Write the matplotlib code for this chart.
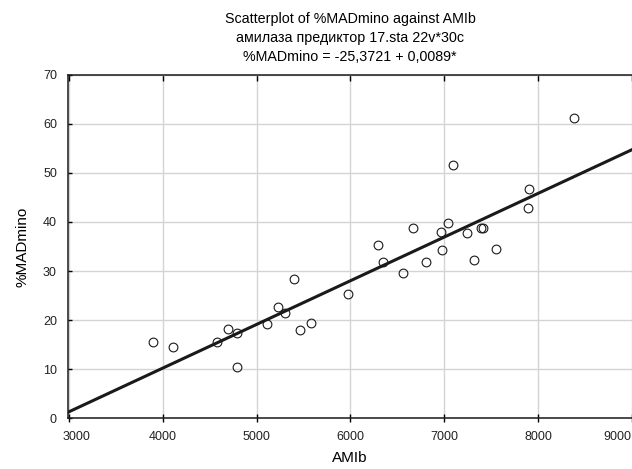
import numpy as np
import matplotlib
matplotlib.use("Agg")
import matplotlib.pyplot as plt
import matplotlib.transforms as mtransforms

plt.rcParams['font.family'] = ['Liberation Sans', 'DejaVu Sans']

# AMIb values (x) and %MADmino values (y)
amib = [3894, 4106, 4577, 4694, 4790, 4787, 5109, 5226, 5300, 5396,
        5460, 5580, 5974, 6296, 6349, 6562, 6668, 6806, 6969, 6980,
        7037, 7090, 7242, 7320, 7387, 7415, 7547, 7887, 7898, 8387]
madmino = [15.6, 14.5, 15.6, 18.1, 17.4, 10.5, 19.3, 22.7, 21.5, 28.4,
           18.0, 19.4, 25.3, 35.4, 31.9, 29.6, 38.8, 31.8, 38.0, 34.2,
           39.8, 51.7, 37.8, 32.2, 38.8, 38.8, 34.5, 42.9, 46.8, 61.1]

intercept = -25.3721
slope = 0.0089

x_ticks = [3000, 4000, 5000, 6000, 7000, 8000, 9000]
y_ticks = [0, 10, 20, 30, 40, 50, 60, 70]

title = ("Scatterplot of %MADmino against AMIb\n"
         "амилаза предиктор 17.sta 22v*30c\n"
         "%MADmino = -25,3721 + 0,0089*")

fig = plt.figure(figsize=(6.32, 4.69), dpi=100)
ax = fig.add_axes([0.1076, 0.1081, 0.8924, 0.7326])

ax.set_xlim(2990, 9000)
ax.set_ylim(0, 70)

ax.grid(True, color='#d4d4d4', linewidth=1.0)
ax.set_axisbelow(True)

ax.axline((0, intercept), slope=slope, color='#1a1a1a', linewidth=2.2, zorder=3)
ax.plot(amib, madmino, linestyle='none', marker='o', markersize=6.3,
        markerfacecolor='none', markeredgecolor='#1a1a1a', markeredgewidth=0.8, zorder=4)

ax.set_xticks(x_ticks)
ax.set_yticks(y_ticks)
ax.tick_params(axis='x', direction='in', length=4, width=1, labelsize=9,
               pad=9, top=True, labelcolor='#222222')
ax.tick_params(axis='y', direction='in', length=3, width=1, labelsize=9,
               pad=8, labelcolor='#222222')

# bottom ticks cross the axis line, top ones point inward only
for t in ax.xaxis.get_major_ticks():
    t.tick1line.set_marker('|')
    t.tick1line.set_markersize(6)

# end labels are pulled inward like in the original
labels = ax.get_xticklabels()
labels[0].set_transform(labels[0].get_transform() +
                        mtransforms.ScaledTranslation(8 / 100, 0, fig.dpi_scale_trans))
labels[-1].set_transform(labels[-1].get_transform() +
                         mtransforms.ScaledTranslation(-15 / 100, 0, fig.dpi_scale_trans))

for side in ['left', 'bottom', 'top']:
    ax.spines[side].set_linewidth(1.1)
    ax.spines[side].set_color('#1a1a1a')
ax.spines['right'].set_visible(False)

ax.set_xlabel('AMIb', fontsize=11, labelpad=6)
ax.set_ylabel('%MADmino', fontsize=11, labelpad=10)
ax.set_title(title, fontsize=10.3, linespacing=1.45, pad=10)

fig.savefig('out.png', dpi=100)
